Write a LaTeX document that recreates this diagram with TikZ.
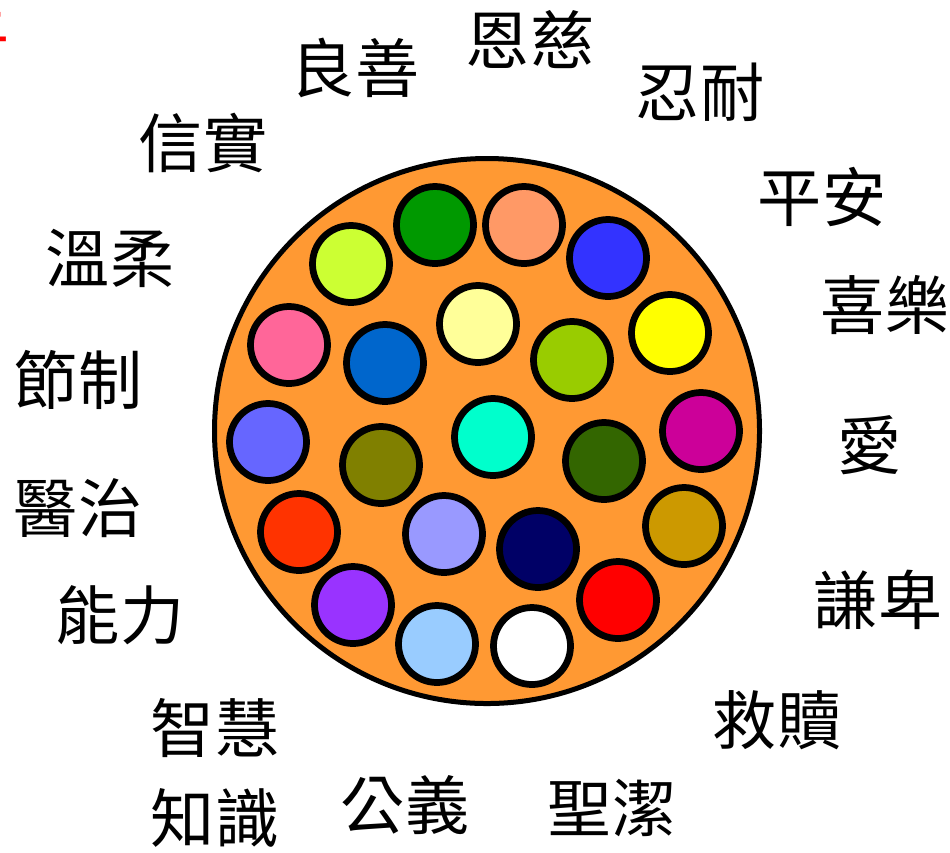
\documentclass[tikz,border=0pt]{standalone}
\usepackage{fontspec}
\setmainfont{Noto Sans CJK TC}
\definecolor{ringfill}{HTML}{FF9933}
\definecolor{cGreen}{HTML}{009900}
\definecolor{cSalmon}{HTML}{FF9966}
\definecolor{cBlue}{HTML}{3333FF}
\definecolor{cLime}{HTML}{CCFF33}
\definecolor{cPink}{HTML}{FF6699}
\definecolor{cSea}{HTML}{0066CC}
\definecolor{cCream}{HTML}{FFFF99}
\definecolor{cOliveGreen}{HTML}{99CC00}
\definecolor{cYellow}{HTML}{FFFF00}
\definecolor{cSlate}{HTML}{6666FF}
\definecolor{cOlive}{HTML}{808000}
\definecolor{cAqua}{HTML}{00FFCC}
\definecolor{cForest}{HTML}{336600}
\definecolor{cMagenta}{HTML}{CC0099}
\definecolor{cRedOrange}{HTML}{FF3300}
\definecolor{cLavender}{HTML}{9999FF}
\definecolor{cNavy}{HTML}{000066}
\definecolor{cGold}{HTML}{CC9900}
\definecolor{cPurple}{HTML}{9933FF}
\definecolor{cSky}{HTML}{99CCFF}
\definecolor{cRed}{HTML}{FF0000}
\begin{document}
\begin{tikzpicture}[x=0.2mm,y=-0.2mm,
        bead/.style={circle,draw,line width=1.35mm,minimum size=15.4mm,inner sep=0pt},
        fruit/.style={font=\fontsize{36.5}{42}\selectfont,inner sep=0pt}]
        \useasboundingbox (0,0) rectangle (950,852);
        \node[fruit,text=red] (cut) at (-22,16) {王};
        \node[circle,draw,line width=1mm,fill=ringfill,minimum size=109mm] (ring) at (487,431) {};
        % outer beads
        \node[bead,fill=cGreen] (b1) at (435,225) {};
        \node[bead,fill=cSalmon] (b2) at (524,225) {};
        \node[bead,fill=cBlue] (b3) at (608,258) {};
        \node[bead,fill=cYellow] (b4) at (670,333) {};
        \node[bead,fill=cMagenta] (b5) at (701,431) {};
        \node[bead,fill=cGold] (b6) at (684,526) {};
        \node[bead,fill=cRed] (b7) at (618,600) {};
        \node[bead,fill=white] (b8) at (532,646) {};
        \node[bead,fill=cSky] (b9) at (437,644) {};
        \node[bead,fill=cPurple] (b10) at (353,605) {};
        \node[bead,fill=cRedOrange] (b11) at (299,532) {};
        \node[bead,fill=cSlate] (b12) at (268,442) {};
        \node[bead,fill=cPink] (b13) at (289,345) {};
        \node[bead,fill=cLime] (b14) at (351,264) {};
        % inner beads
        \node[bead,fill=cCream] (b15) at (478,324) {};
        \node[bead,fill=cOliveGreen] (b16) at (572,360) {};
        \node[bead,fill=cForest] (b17) at (604,461) {};
        \node[bead,fill=cNavy] (b18) at (538,549) {};
        \node[bead,fill=cLavender] (b19) at (444,534) {};
        \node[bead,fill=cOlive] (b20) at (381,465) {};
        \node[bead,fill=cSea] (b21) at (385,363) {};
        \node[bead,fill=cAqua] (b22) at (493,437) {};
        % labels
        \node[fruit] (ensi) at (530,40) {恩慈};
        \node[fruit] (liangshan) at (355,68) {良善};
        \node[fruit] (rennai) at (700,92) {忍耐};
        \node[fruit] (xinshi) at (203,143) {信實};
        \node[fruit] (pingan) at (822,197) {平安};
        \node[fruit] (wenrou) at (110,258) {溫柔};
        \node[fruit] (xile) at (885,305) {喜樂};
        \node[fruit] (jiezhi) at (78,380) {節制};
        \node[fruit] (ai) at (870,445) {愛};
        \node[fruit] (yizhi) at (78,508) {醫治};
        \node[fruit] (qianbei) at (878,600) {謙卑};
        \node[fruit] (nengli) at (120,615) {能力};
        \node[fruit] (jiushu) at (777,720) {救贖};
        \node[fruit] (zhihui) at (215,728) {智慧};
        \node[fruit] (gongyi) at (405,805) {公義};
        \node[fruit] (zhishi) at (215,818) {知識};
        \node[fruit] (shengjie) at (612,808) {聖潔};
    \end{tikzpicture}
\end{document}
